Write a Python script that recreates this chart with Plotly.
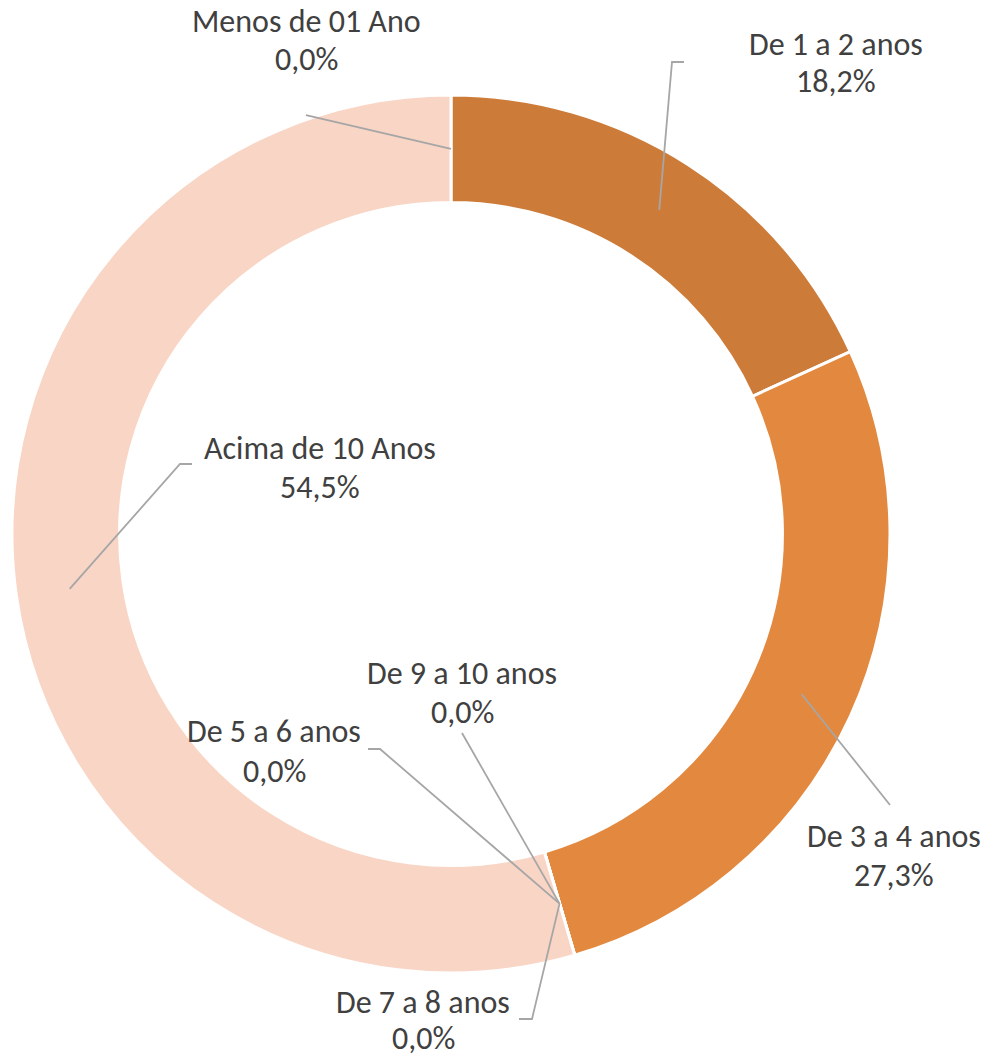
import math
import plotly.graph_objects as go

# ---- data ----
categories = ["Menos de 01 Ano", "De 1 a 2 anos", "De 3 a 4 anos", "De 5 a 6 anos",
              "De 7 a 8 anos", "De 9 a 10 anos", "Acima de 10 Anos"]
counts = [0, 2, 3, 0, 0, 0, 6]
colors = ["#F2B48C", "#CD7B38", "#E3893F", "#EDA266", "#F0B07E", "#F4C3A0", "#F9D5C5"]

# ---- label layout (page pixel positions of label text and leader-line ends) ----
# category: (text center x, line1 y, line2 y, leader points from label side toward slice)
label_layout = {
    "Menos de 01 Ano": (306, 22, 60, [(306, 115)]),
    "De 1 a 2 anos": (836, 45, 82, [(684, 62), (672, 62)]),
    "De 3 a 4 anos": (894, 836, 875, [(890, 805)]),
    "De 5 a 6 anos": (274, 732, 771, [(368, 749), (380, 749)]),
    "De 7 a 8 anos": (423, 1002, 1038, [(519, 1019), (532, 1019)]),
    "De 9 a 10 anos": (462, 673, 712, [(462, 733)]),
    "Acima de 10 Anos": (320, 448, 487, [(192, 464), (180, 464)]),
}

W, H = 990, 1058
cx, cy, R = 451, 534, 439
hole = 0.755
FONT = "Calibri, Carlito, Lato, sans-serif"
TXT = "#404040"
LINE = "#A6A6A6"

total = sum(counts)
pcts = [c / total * 100 for c in counts]
pct_text = [f"{p:.1f}%".replace(".", ",") for p in pcts]

def px(x):
    return x / W

def py(y):
    return 1 - y / H

fig = go.Figure(go.Pie(
    labels=categories, values=counts, sort=False, direction="clockwise", rotation=0,
    hole=hole, marker=dict(colors=colors, line=dict(color="white", width=3)),
    textinfo="none", hoverinfo="label+percent", showlegend=False,
    domain=dict(x=[px(cx - R), px(cx + R)], y=[py(cy + R), py(cy - R)]),
))

# anchors at slice mid-angle, mid-ring radius
r_mid = R * (1 + hole) / 2
cum = 0
shapes, annotations = [], []
for cat, c, ptxt in zip(categories, counts, pct_text):
    mid = (cum + c / 2) / total * 2 * math.pi
    cum += c
    ax = cx + r_mid * math.sin(mid)
    ay = cy - r_mid * math.cos(mid)
    tx, y1, y2, pts = label_layout[cat]
    path_pts = pts + [(ax, ay)]
    path = "M " + " L ".join(f"{px(x):.5f},{py(y):.5f}" for x, y in path_pts)
    shapes.append(dict(type="path", path=path, xref="paper", yref="paper",
                       line=dict(color=LINE, width=1.8), layer="above"))
    for t, yy in ((cat, y1), (ptxt, y2)):
        annotations.append(dict(text=t, x=px(tx), y=py(yy), xref="paper", yref="paper",
                                xanchor="center", yanchor="middle", showarrow=False,
                                font=dict(family=FONT, size=32, color=TXT)))

fig.update_layout(
    width=W, height=H, margin=dict(l=0, r=0, t=0, b=0),
    paper_bgcolor="white", plot_bgcolor="white",
    shapes=shapes, annotations=annotations,
)
fig.write_html(
    "out.html",
    config={"displayModeBar": False},
    post_script="document.body.style.margin='0';document.body.style.overflow='hidden';",
)
